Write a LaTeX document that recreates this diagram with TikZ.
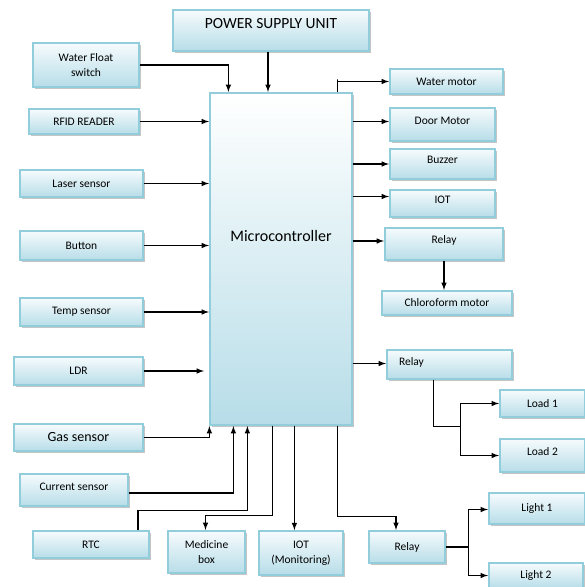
\documentclass[tikz,border=0pt]{standalone}
\usepackage{fontspec}
\setmainfont{Carlito}
\usepackage{tikz}
\usetikzlibrary{arrows,shadows}

\definecolor{blkline}{HTML}{92CDDC}
\definecolor{blkfill}{HTML}{B7DDE8}
\definecolor{blktop}{HTML}{F6FBFD}

\begin{document}
\begin{tikzpicture}[x=1pt, y=-1pt, >=latex,
    blk/.style={draw=blkline, line width=1.2pt, top color=blktop, bottom color=blkfill,
                drop shadow={shadow xshift=1.6pt, shadow yshift=-1.6pt, fill=black!45},
                inner sep=2pt, align=center, font=\fontsize{11.5}{14.5}\selectfont},
    wire/.style={->, line width=1.5pt, shorten >=0.5pt}]

  \path[use as bounding box, fill=white] (0,0) rectangle (585,587);

  % controller and supply
  \node[blk, minimum width=142, minimum height=332, text depth=46pt,
        top color=white, font=\fontsize{16}{18}\selectfont] (mcu) at (281,259) {Microcontroller};
  \node[blk, minimum width=196, minimum height=41, text depth=14pt,
        font=\fontsize{15.5}{17}\selectfont] (psu) at (271,30.5) {POWER SUPPLY UNIT};

  % inputs on the left
  \node[blk, minimum width=106, minimum height=44] (wfs) at (86,65) {Water Float\\switch};
  \node[blk, minimum width=110, minimum height=25] (rfid) at (84,121.5) {RFID READER};
  \node[blk, minimum width=123, minimum height=27] (laser) at (81.5,183.5) {Laser sensor};
  \node[blk, minimum width=123, minimum height=29] (btn) at (81.5,245.5) {Button};
  \node[blk, minimum width=123, minimum height=28] (temp) at (81.5,312) {Temp sensor};
  \node[blk, minimum width=129, minimum height=28] (ldr) at (78.5,371) {LDR};
  \node[blk, minimum width=129, minimum height=27,
        font=\fontsize{14}{16}\selectfont] (gas) at (78.5,437.5) {Gas sensor};
  \node[blk, minimum width=108, minimum height=32, text depth=6pt] (cur) at (74,490) {Current sensor};
  \node[blk, minimum width=116, minimum height=27] (rtc) at (91,544.5) {RTC};

  % bottom row
  \node[blk, minimum width=77, minimum height=42] (med) at (206.5,552) {Medicine\\box};
  \node[blk, minimum width=84, minimum height=44] (iotm) at (301,553) {IOT\\(Monitoring)};
  \node[blk, minimum width=76, minimum height=32] (relayc) at (407,547) {Relay};
  \node[blk, minimum width=96, minimum height=31] (light1) at (537,508.5) {Light 1};
  \node[blk, minimum width=94, minimum height=25] (light2) at (536,575.5) {Light 2};

  % outputs on the right
  \node[blk, minimum width=113, minimum height=25] (wmot) at (446.5,81.5) {Water motor};
  \node[blk, minimum width=105, minimum height=33, text depth=8pt] (door) at (442.5,124.5) {Door Motor};
  \node[blk, minimum width=105, minimum height=30, text depth=8pt] (buzz) at (442.5,164) {Buzzer};
  \node[blk, minimum width=105, minimum height=27, text depth=7pt] (iot) at (442.5,203.5) {IOT};
  \node[blk, minimum width=118, minimum height=32, text depth=8pt] (relaya) at (444,244) {Relay};
  \node[blk, minimum width=130, minimum height=24] (chloro) at (447,303) {Chloroform motor};
  \node[blk, minimum height=29, inner xsep=12pt, text width=101pt, align=left,
        text depth=6pt] (relayb) at (449.5,364.5) {Relay};
  \node[blk, minimum width=85, minimum height=27] (load1) at (542.5,403.5) {Load 1};
  \node[blk, minimum width=85, minimum height=33, text depth=8pt] (load2) at (542.5,455.5) {Load 2};

  % signals into the controller
  \draw[wire] (wfs.east) -| ([xshift=19pt]mcu.north west);
  \draw[wire] ([xshift=-3pt]psu.south) -- ([xshift=-3pt]psu.south |- mcu.north);
  \draw[wire] (rfid.east) -- (rfid.east -| mcu.west);
  \draw[wire] (laser.east) -- (laser.east -| mcu.west);
  \draw[wire] (btn.east) -- (btn.east -| mcu.west);
  \draw[wire] (temp.east) -- (temp.east -| mcu.west);
  \draw[wire] (ldr.east) -- ([xshift=-5pt]ldr.east -| mcu.west);
  \draw[wire] (gas.east) -| (mcu.south west);
  \draw[wire] ([yshift=-3pt]cur.east) -| ([xshift=24pt]mcu.south west);
  \draw[wire] ([xshift=47pt]rtc.north) -- ++(0,-20) -| ([xshift=38pt]mcu.south west);

  % controller outputs
  \draw[wire] ([xshift=63pt]mcu.south west) -- ++(0,90) -| ([xshift=-1pt]med.north);
  \draw[wire] ([xshift=85pt]mcu.south west) -- ++(0,105);
  \draw[wire] ([xshift=128pt]mcu.south west) -- ++(0,91) -| ([xshift=-11pt]relayc.north);
  \draw[wire] ([xshift=-15pt]mcu.north east) -- ++(0,-13) |- (wmot.west);
  \draw[wire] ([yshift=3pt]door.west -| mcu.east) -- ([yshift=3pt]door.west);
  \draw[wire] (buzz.west -| mcu.east) -- (buzz.west);
  \draw[wire] ([yshift=7pt]iot.west -| mcu.east) -- ([yshift=7pt]iot.west);
  \draw[wire] ([yshift=3pt]relaya.west -| mcu.east) -- ([yshift=3pt]relaya.west);
  \draw[wire] ([yshift=1pt]relayb.west -| mcu.east) -- ([yshift=1pt]relayb.west);
  \draw[wire] (relaya.south) -- (relaya.south |- chloro.north);

  % relay branches
  \draw[line width=1.5pt] ([xshift=-16pt]relayb.south) -- ++(0,47) -- ++(27,0) coordinate (lsplit);
  \draw[wire] (lsplit) |- (load1.west);
  \draw[wire] (lsplit) |- (load2.west);
  \draw[line width=1.5pt] (relayc.east) -- ++(23,0) coordinate (gsplit);
  \draw[wire] (gsplit) |- ([yshift=-1pt]light1.west);
  \draw[wire] (gsplit) |- (light2.west);
\end{tikzpicture}
\end{document}
